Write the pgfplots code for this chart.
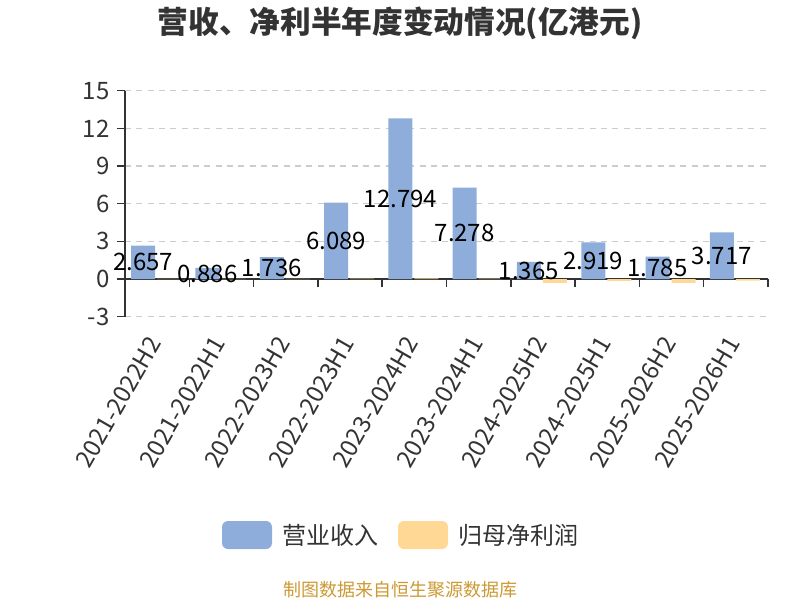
\documentclass[border=0pt]{standalone}
\usepackage{fontspec}
\setmainfont{Noto Sans CJK SC}
\usepackage{pgfplots}
\pgfplotsset{compat=1.18}
\usepackage{pgfplotstable}
\definecolor{barblue}{RGB}{142,173,219}
\definecolor{barorange}{RGB}{255,216,150}
\definecolor{txt}{RGB}{51,51,51}
\definecolor{gridc}{RGB}{204,204,204}
\definecolor{src}{RGB}{204,153,51}

\pgfplotstableread{
x v p
0 2.657 0.02
1 0.886 0.01
2 1.736 0.02
3 6.089 0.03
4 12.794 0.05
5 7.278 0.03
6 1.365 -0.30
7 2.919 -0.15
8 1.785 -0.30
9 3.717 -0.12
}\datatable

\begin{document}
\begin{tikzpicture}
\begin{scope}[x=0.75pt,y=-0.75pt,shift={(-93.75pt,237.525pt)}]
\path[use as bounding box] (0,0) rectangle (800,600);
\node[font=\bfseries\fontsize{23}{23}\selectfont, text=txt] at (400,23) {营收、净利半年度变动情况(亿港元)};
\fill[barblue, rounded corners=4.5pt] (222,521) rectangle (272,549);
\node[anchor=west, inner sep=0pt, font=\fontsize{18}{18}\selectfont, text=txt] at (282,535) {营业收入};
\fill[barorange, rounded corners=4.5pt] (398,521) rectangle (448,549);
\node[anchor=west, inner sep=0pt, font=\fontsize{18}{18}\selectfont, text=txt] at (458,535) {归母净利润};
\node[font=\fontsize{13.5}{13.5}\selectfont, text=src] at (400,590) {制图数据来自恒生聚源数据库};
\end{scope}
\begin{axis}[
  at={(0,0)}, anchor=south west,
  width=482.25pt, height=169.5pt, scale only axis,
  xmin=-0.5, xmax=9.5, ymin=-3, ymax=15,
  clip=false,
  axis x line=middle, axis y line=left,
  axis line style={-, draw=txt, line width=1.1pt},
  hide obscured x ticks=false, hide obscured y ticks=false,
  ytick={-3,0,3,6,9,12,15},
  xtick={0,...,9},
  xticklabels={2021-2022H2,2021-2022H1,2022-2023H2,2022-2023H1,2023-2024H2,2023-2024H1,2024-2025H2,2024-2025H1,2025-2026H2,2025-2026H1},
  minor xtick={-0.5,0.5,...,9.5},
  tick align=outside,
  major tick length=6pt, minor tick length=6pt,
  major x tick style={draw=none},
  minor x tick style={draw=txt, line width=1.1pt},
  y tick style={draw=txt, line width=1.1pt},
  ymajorgrids,
  major grid style={gridc, line width=0.9pt, dash pattern=on 4.5pt off 4pt},
  /pgf/number format/assume math mode=true,
  yticklabel style={font=\fontsize{18}{18}\selectfont, text=txt, xshift=-2pt},
  xticklabel style={yshift=-36pt, rotate=60, anchor=east, font=\fontsize{18}{18}\selectfont, text=txt},
]
\addplot[ybar, bar width=18pt, bar shift=-10.5pt, fill=barblue, draw=none] table[x=x,y=v]{\datatable};
\addplot[ybar, bar width=18pt, bar shift=9pt, fill=barorange, draw=none] table[x=x,y=p]{\datatable};
\addplot[draw=none, mark=none, nodes near coords, point meta=explicit,
  nodes near coords={\pgfmathprintnumber[fixed,fixed zerofill,precision=3,assume math mode=true]{\pgfplotspointmeta}},
  every node near coord/.append style={anchor=center, xshift=-10.5pt, font=\fontsize{18}{18}\selectfont, text=black, inner sep=0pt}]
  table[x=x, y expr=\thisrow{v}/2, meta=v]{\datatable};
\end{axis}
\end{tikzpicture}
\end{document}
